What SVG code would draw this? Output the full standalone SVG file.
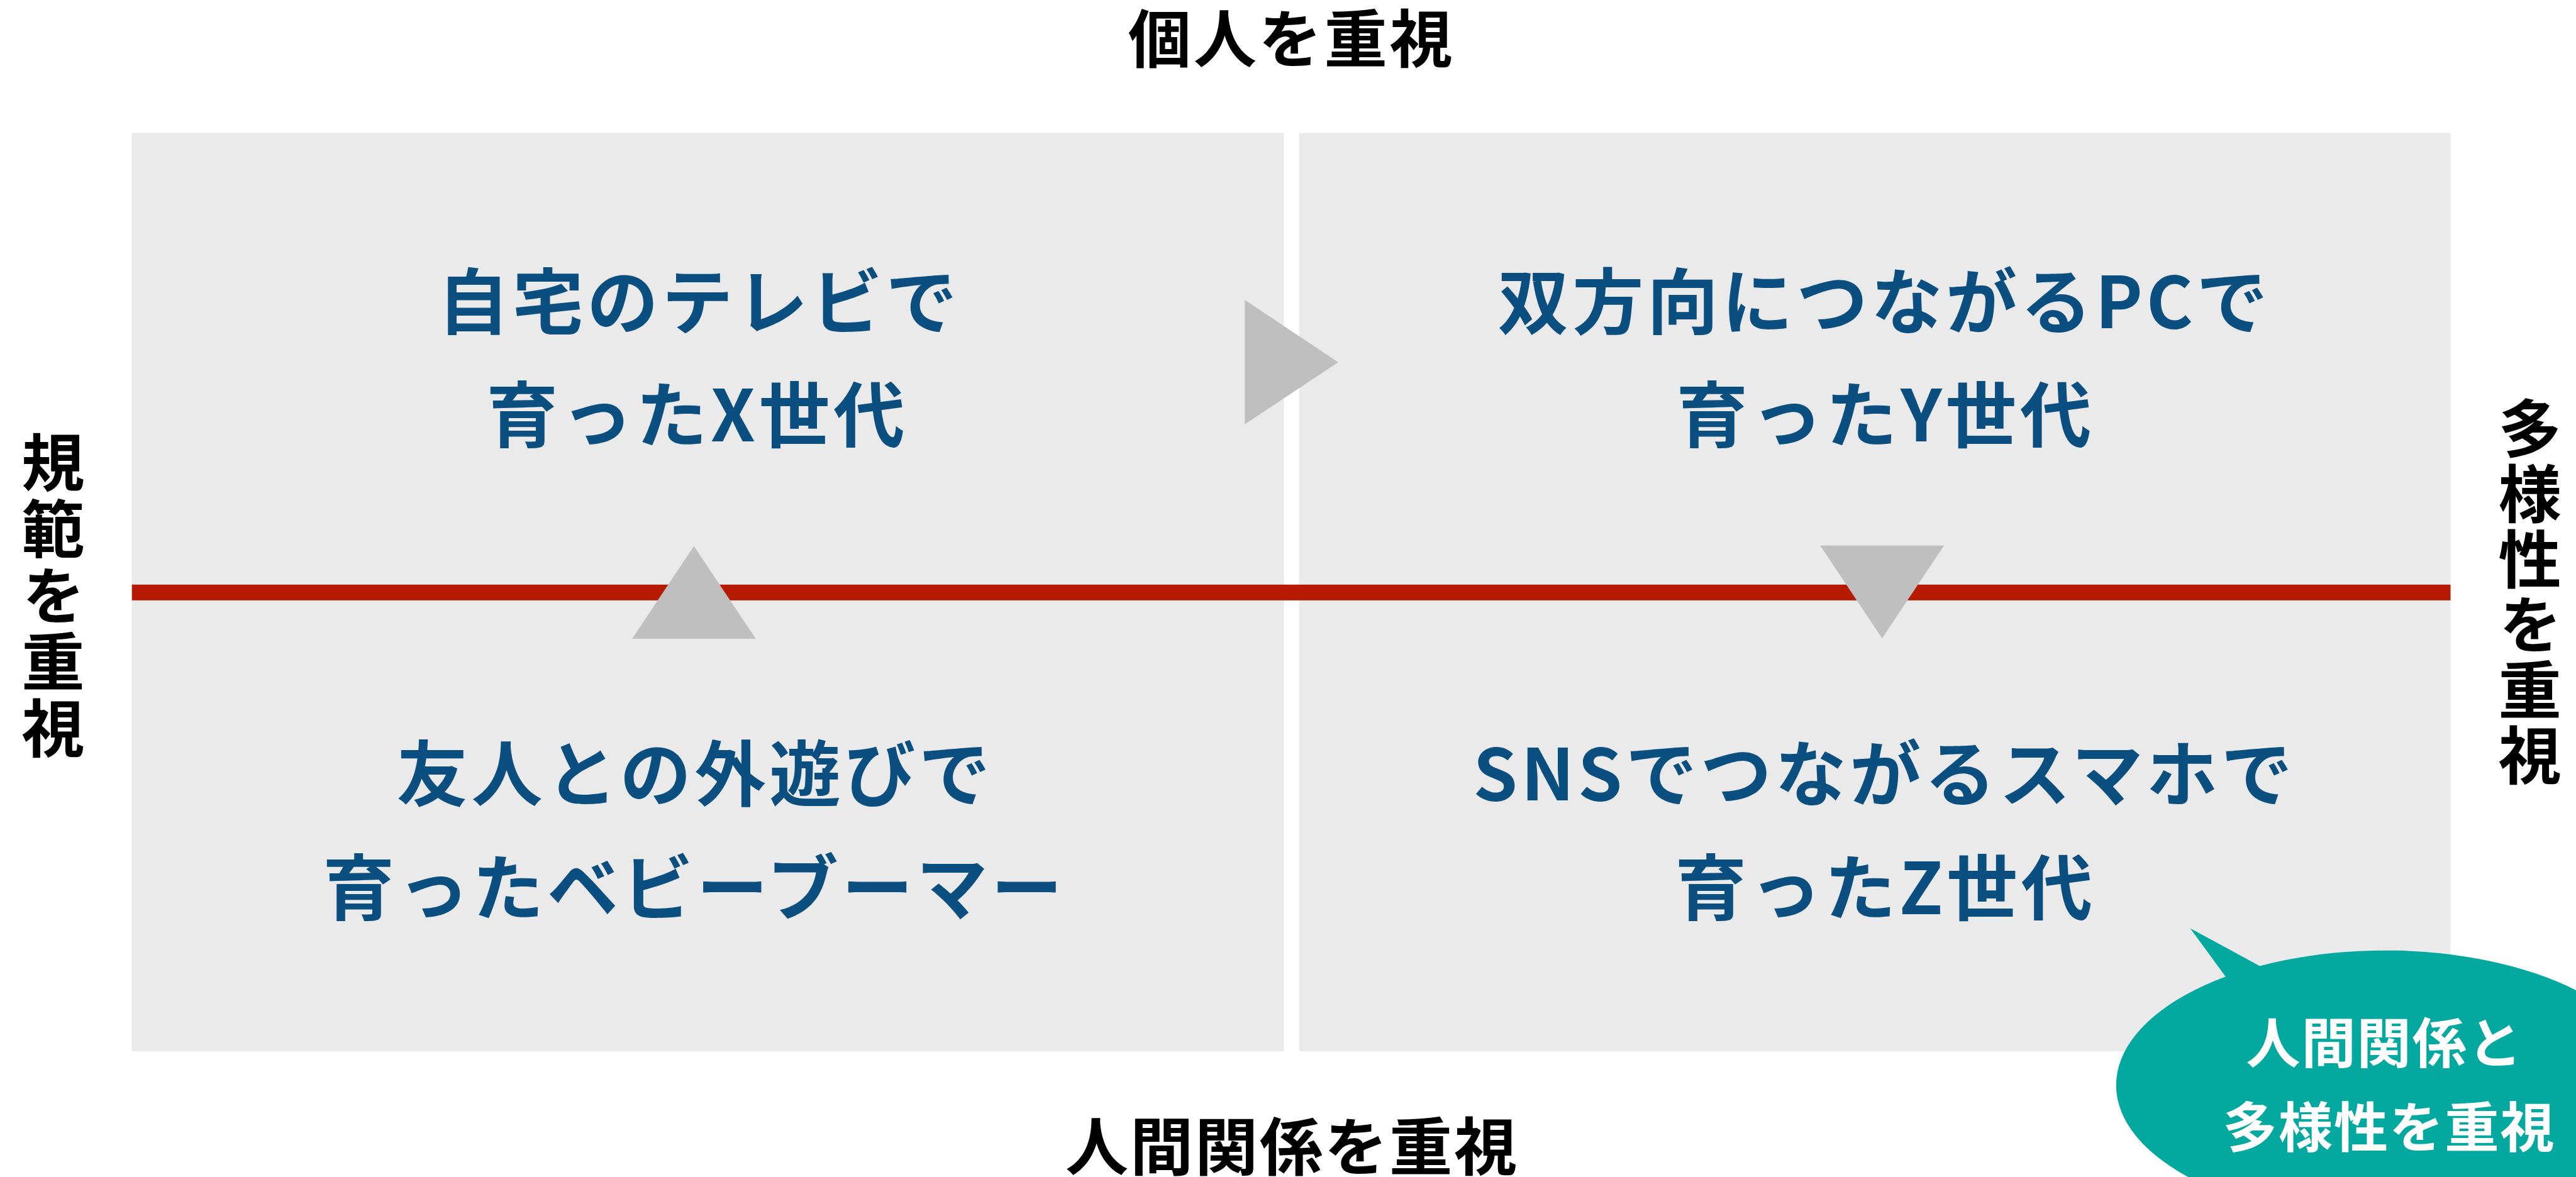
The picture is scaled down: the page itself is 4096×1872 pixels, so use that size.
<svg xmlns="http://www.w3.org/2000/svg" width="4096" height="1872" viewBox="0 0 4096 1872">
<style>
.box{fill:#eaeaea}
.lbl{fill:#000;font-family:"Noto Sans CJK JP","Noto Sans CJK SC",sans-serif;font-weight:700;font-size:108px;text-anchor:middle}
.vlbl{fill:#000;font-family:"Noto Sans CJK JP","Noto Sans CJK SC",sans-serif;font-weight:700;font-size:108px;writing-mode:vertical-rl;text-anchor:start}
.gen{fill:#0b4e80;font-family:"Noto Sans CJK JP","Noto Sans CJK SC",sans-serif;font-weight:700;font-size:122px;letter-spacing:6px;text-anchor:middle}
.arrow{fill:#bfbfbf}
.axis{fill:#b61a00}
.bubble{fill:#03a89e}
.btext{fill:#fff;font-family:"Noto Sans CJK JP","Noto Sans CJK SC",sans-serif;font-weight:700;font-size:93px;letter-spacing:2px;text-anchor:middle}
</style>
<rect width="4096" height="1872" fill="#fff"/>
<g transform="scale(0.92796)">
  <g id="quadrant-left">
    <rect class="box" x="226" y="228" width="1974" height="1574"/>
  </g>
  <g id="quadrant-right">
    <rect class="box" x="2226" y="228" width="1973" height="1574"/>
  </g>
  <g id="connectors">
    <rect class="axis" x="226" y="1002" width="3973" height="27"/>
    <polygon class="arrow" points="2133,514 2293,621 2133,727"/>
    <polygon class="arrow" points="1189,936 1295,1095 1083,1095"/>
    <polygon class="arrow" points="3119,935 3331,935 3225,1094"/>
  </g>
  <g id="label-top">
    <text class="lbl" x="2213" y="107" style="letter-spacing:4px">個人を重視</text>
  </g>
  <g id="label-bottom">
    <text class="lbl" x="2214" y="2006" style="letter-spacing:3px">人間関係を重視</text>
  </g>
  <g id="label-left">
    <text class="vlbl" x="91" y="738" style="letter-spacing:6px">規範を重視</text>
  </g>
  <g id="label-right">
    <text class="vlbl" x="4335" y="680" style="letter-spacing:4px">多様性を重視</text>
  </g>
  <g id="gen-x">
    <text class="gen" x="1198" y="563">自宅のテレビで</text>
    <text class="gen" x="1195" y="756">育ったX世代</text>
  </g>
  <g id="gen-y">
    <text class="gen" x="3229" y="563">双方向につながるPCで</text>
    <text class="gen" x="3231" y="756">育ったY世代</text>
  </g>
  <g id="gen-boomer">
    <text class="gen" x="1191" y="1372">友人との外遊びで</text>
    <text class="gen" x="1190" y="1567">育ったベビーブーマー</text>
  </g>
  <g id="gen-z">
    <text class="gen" x="3229" y="1372">SNSでつながるスマホで</text>
    <text class="gen" x="3231" y="1567">育ったZ世代</text>
  </g>
  <g id="bubble">
    <ellipse class="bubble" cx="4087" cy="1860" rx="461" ry="231"/>
    <polygon class="bubble" points="3818,1680 3753,1591 3880,1660"/>
    <text class="btext" x="4086" y="1822">人間関係と</text>
    <text class="btext" x="4094" y="1967">多様性を重視</text>
  </g>
</g>
</svg>
